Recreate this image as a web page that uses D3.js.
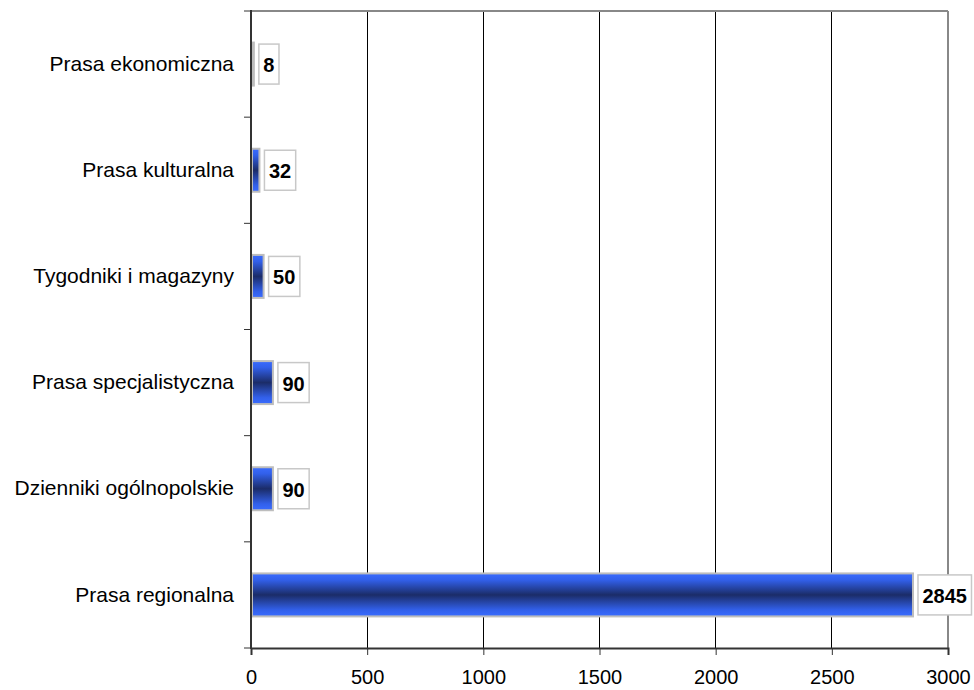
<!DOCTYPE html>
<html><head><meta charset="utf-8">
<script src="https://cdn.jsdelivr.net/npm/d3@7"></script>
<style>
html,body{margin:0;padding:0;background:#fff;}
svg{display:block;font-family:"Liberation Sans",Arial,sans-serif;}
</style></head>
<body>
<svg id="chart" width="974" height="690"></svg>
<script>
const categories = ["Prasa ekonomiczna","Prasa kulturalna","Tygodniki i magazyny","Prasa specjalistyczna","Dzienniki ogólnopolskie","Prasa regionalna"];
const values = [8, 32, 50, 90, 90, 2845];
const xTicks = [0, 500, 1000, 1500, 2000, 2500, 3000];

const W = 974, H = 690;
const m = {top: 11, right: 26, bottom: 42, left: 251};
const svg = d3.select("#chart");

const x = d3.scaleLinear().domain([0, 3000]).range([m.left, W - m.right]);
const y = d3.scaleBand().domain(categories).range([m.top, H - m.bottom]).padding(0);
const barH = y.bandwidth() * 0.405;

const defs = svg.append("defs");
const grad = defs.append("linearGradient").attr("id","barGrad").attr("x1",0).attr("y1",0).attr("x2",0).attr("y2",1);
grad.append("stop").attr("offset","0%").attr("stop-color","#3a6cff");
grad.append("stop").attr("offset","15%").attr("stop-color","#3260ea");
grad.append("stop").attr("offset","50%").attr("stop-color","#1b2c68");
grad.append("stop").attr("offset","85%").attr("stop-color","#3260ea");
grad.append("stop").attr("offset","100%").attr("stop-color","#3a6cff");

// gridlines
svg.append("g").selectAll("line").data(xTicks.filter(t => t > 0 && t < 3000)).join("line")
  .attr("x1", d => x(d)).attr("x2", d => x(d))
  .attr("y1", m.top).attr("y2", H - m.bottom)
  .attr("stroke", "#000").attr("stroke-width", 1).attr("shape-rendering","crispEdges");

// top & right border
svg.append("line").attr("x1", x(0)).attr("x2", x(3000)).attr("y1", m.top).attr("y2", m.top)
  .attr("stroke", "#888").attr("stroke-width", 2);
svg.append("line").attr("x1", x(3000)).attr("x2", x(3000)).attr("y1", m.top).attr("y2", H - m.bottom)
  .attr("stroke", "#888").attr("stroke-width", 2);

// bottom axis
const xAxis = svg.append("g").attr("transform", `translate(0,${H - m.bottom})`)
  .call(d3.axisBottom(x).tickValues(xTicks).tickSize(7).tickFormat(d3.format("d")));
xAxis.select(".domain").attr("stroke", "#333").attr("stroke-width", 2);
xAxis.selectAll(".tick line").attr("stroke", "#333").attr("stroke-width", 1);
xAxis.selectAll(".tick text").attr("y", 22).attr("font-size", 20).attr("fill", "#000")
  .attr("font-family", '"Liberation Sans",Arial,sans-serif');

// left axis labels
const yAxis = svg.append("g").attr("transform", `translate(${m.left},0)`)
  .call(d3.axisLeft(y).tickSize(0).tickPadding(17));
yAxis.select(".domain").remove();
yAxis.selectAll(".tick text").attr("font-size", 21).attr("fill", "#000")
  .attr("font-family", '"Liberation Sans",Arial,sans-serif');

// left boundary ticks
const bounds = categories.map(c => y(c)).concat([y(categories[categories.length - 1]) + y.bandwidth()]);
svg.append("g").selectAll("line").data(bounds).join("line")
  .attr("x1", m.left - 7).attr("x2", m.left).attr("y1", d => d).attr("y2", d => d)
  .attr("stroke", "#333").attr("stroke-width", 1);

// bars
const rows = categories.map((c, i) => ({cat: c, val: values[i]}));
svg.append("g").selectAll("rect").data(rows).join("rect")
  .attr("x", x(0) + 1)
  .attr("y", d => y(d.cat) + y.bandwidth() / 2 - barH / 2)
  .attr("width", d => Math.max(1, x(d.val) - x(0)))
  .attr("height", barH)
  .attr("fill", "url(#barGrad)")
  .attr("stroke", "#bdbdbd").attr("stroke-width", 2);

// left axis line (on top)
svg.append("line").attr("x1", m.left).attr("x2", m.left).attr("y1", m.top - 1).attr("y2", H - m.bottom + 1)
  .attr("stroke", "#333").attr("stroke-width", 2);

// value labels
const lab = svg.append("g").selectAll("g").data(rows).join("g");
lab.each(function(d) {
  const g = d3.select(this);
  const cy = y(d.cat) + y.bandwidth() / 2;
  const t = g.append("text").text(d.val)
    .attr("font-size", 20).attr("font-weight", "bold").attr("fill", "#000")
    .attr("dominant-baseline", "central");
  const tw = t.node().getComputedTextLength();
  const bx = x(d.val) + 6;
  const bw = tw + 9;
  g.insert("rect", "text").attr("x", bx).attr("y", cy - 20).attr("width", bw).attr("height", 40)
    .attr("fill", "#fff").attr("stroke", "#c8c8c8").attr("stroke-width", 1.5);
  t.attr("x", bx + 4.5).attr("y", cy + 1);
});
</script>
</body></html>
